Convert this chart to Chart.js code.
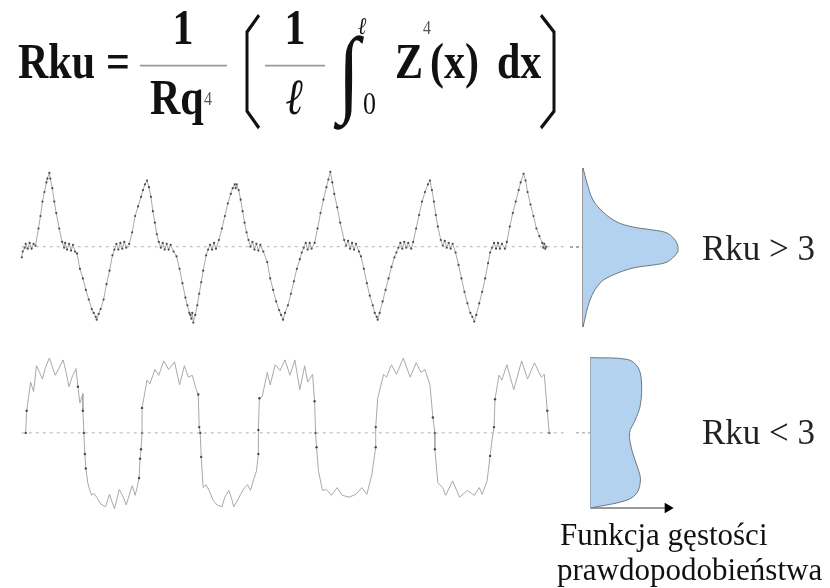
<!DOCTYPE html>
<html>
<head>
<meta charset="utf-8">
<script src="https://cdn.jsdelivr.net/npm/chart.js@4/dist/chart.umd.min.js"></script>
<style>
  html, body { margin: 0; padding: 0; background: #ffffff; }
  #wrap { position: relative; width: 830px; height: 588px; overflow: hidden; background: #ffffff; }
  canvas { position: absolute; }
  svg { position: absolute; left: 0; top: 0; }
  .serif { font-family: 'Liberation Serif', 'Times New Roman', serif; }
</style>
</head>
<body>
<div id="wrap">
  <canvas id="topProfile" width="570" height="200" style="left:0;top:140px"></canvas>
  <canvas id="topDensity" width="130" height="200" style="left:570px;top:140px"></canvas>
  <canvas id="bottomProfile" width="570" height="200" style="left:0;top:330px"></canvas>
  <canvas id="bottomDensity" width="130" height="200" style="left:570px;top:330px"></canvas>

  <svg width="830" height="588" xmlns="http://www.w3.org/2000/svg">
    <!-- kurtosis formula, set slightly tall -->
    <g transform="translate(0,-10) scale(1,1.2)">
      <g class="serif" font-weight="bold" font-size="42" fill="#111">
        <text x="18" y="73">Rku</text>
        <text x="106" y="73">=</text>
        <text x="183" y="45" text-anchor="middle">1</text>
        <text x="150" y="103">Rq</text>
        <text x="295" y="45" text-anchor="middle">1</text>
        <text x="295" y="103" text-anchor="middle" font-style="italic">ℓ</text>
        <text x="395" y="73">Z</text>
        <text x="430" y="73">(x)</text>
        <text x="497" y="73">dx</text>
      </g>
      <g class="serif" fill="#555">
        <text x="204" y="96" font-size="16">4</text>
        <text x="423" y="37" font-size="16">4</text>
      </g>
      <g class="serif" fill="#111">
        <text x="358" y="37" font-size="20" font-style="italic">ℓ</text>
        <text x="363" y="103" font-size="26">0</text>
        <text x="338" y="95" font-size="80">∫</text>
      </g>
      <line x1="140" y1="63" x2="227" y2="63" stroke="#9a9a9a" stroke-width="1.3"/>
      <line x1="265" y1="63" x2="325" y2="63" stroke="#9a9a9a" stroke-width="1.3"/>
      <path d="M259,21 L247,35 L247,101 L259,115" fill="none" stroke="#111" stroke-width="3"/>
      <path d="M541,21 L554,35 L554,101 L541,115" fill="none" stroke="#111" stroke-width="3"/>
    </g>

    <!-- labels -->
    <g class="serif" fill="#222" font-size="35">
      <text x="702" y="260">Rku &gt; 3</text>
      <text x="702" y="444">Rku &lt; 3</text>
    </g>
    <g class="serif" fill="#111" font-size="31">
      <text x="560" y="545">Funkcja gęstości</text>
      <text x="557" y="580">prawdopodobieństwa</text>
    </g>
  </svg>
</div>

<script>
// Profile with Rku > 3: position along the trace and height above the mean line
const topPosition = [
  0,1,3,4,6,8,10,12,14,
  17,19,21,23,25,26,28,
  29,31,33,35,38,41,
  43,44,46,48,50,52,54,
  56,59,62,65,68,71,73,75,76,
  78,80,83,86,89,92,
  94,96,98,100,102,104,106,109,
  112,115,118,121,123,125,127,
  129,131,133,135,137,139,
  141,143,145,147,149,151,154,157,
  160,163,166,168,170,171,172,173,174,176,
  178,180,182,184,187,
  189,191,193,195,197,200,
  203,206,209,212,214,216,217,218,220,
  222,224,226,228,230,
  232,234,236,238,240,242,245,249,
  252,255,258,261,263,265,
  267,270,273,276,279,282,284,
  286,288,290,292,294,297,
  300,303,306,309,311,313,
  315,317,320,323,327,
  329,331,333,335,337,339,342,344,
  347,350,353,356,358,360,361,
  363,366,369,372,375,378,380,
  382,384,386,388,390,392,395,397,
  400,403,406,409,412,414,
  416,418,420,422,425,
  427,429,431,433,435,437,440,
  443,446,449,452,455,457,459,
  461,464,467,470,473,475,
  477,479,481,483,485,487,490,492,
  495,498,501,504,506,509,
  511,513,516,519,522,525,528,
  529,530,531,532
];
const topHeight = [
  -11,-5,-1,3,-2,4,-2,3,1,
  19,32,47,57,67,71,77,
  71,61,47,35,19,5,
  -1,4,-3,3,-4,2,-5,
  -7,-23,-33,-45,-55,-65,-69,-73,-76,
  -70,-65,-55,-39,-25,-9,
  -3,3,-3,4,-2,5,-1,3,
  15,32,42,52,59,65,69,
  62,52,37,25,13,5,
  -1,4,-3,3,-3,2,-5,-10,
  -23,-38,-53,-61,-69,-71,-75,-69,-79,-71,
  -61,-49,-37,-25,-9,
  -3,2,-3,4,-2,7,
  19,32,45,55,61,65,61,65,59,
  49,37,25,15,7,
  0,5,-3,3,-4,2,-5,-16,
  -33,-45,-57,-66,-71,-76,
  -69,-61,-49,-36,-23,-13,-6,
  -1,4,-3,4,-2,4,
  19,35,49,62,70,78,
  67,55,41,25,7,
  1,6,-2,4,-3,3,-5,-10,
  -23,-38,-51,-61,-69,-73,-76,
  -69,-57,-45,-33,-21,-11,-6,
  -1,4,-2,5,-1,4,-2,5,
  19,33,47,57,65,69,
  59,47,33,21,7,
  1,6,-1,4,-2,3,-6,
  -19,-33,-47,-59,-69,-73,-78,
  -71,-59,-47,-33,-17,-6,
  -1,4,-2,4,-2,3,-2,5,
  21,35,47,59,67,76,
  69,57,44,32,19,11,4,
  -1,3,-2,0
];

// Profile with Rku < 3
const bottomPosition = [
  4,5,7,9,12,15,18,21,24,28,31,34,38,42,45,48,51,55,57,59,62,62,
  63,64,65,67,69,71,73,76,80,85,89,94,99,103,106,109,112,115,117,119,120,121,
  122,122,125,127,130,135,139,144,149,155,160,165,169,173,177,179,180,
  181,182,184,187,190,194,198,203,206,210,213,215,219,222,226,229,232,235,238,240,
  240,241,244,249,252,257,262,267,272,277,282,287,290,295,297,
  298,299,301,305,309,314,320,325,332,339,345,350,355,359,
  359,361,367,370,375,380,387,394,400,405,409,414,417,
  419,419,422,427,430,437,444,452,459,464,467,472,475,477,
  479,480,484,487,492,499,507,513,520,527,530,533,535
];
const bottomHeight = [
  0,23,38,53,43,70,63,56,68,78,69,60,68,76,63,48,58,67,48,31,41,23,
  0,-22,-37,-52,-60,-65,-63,-67,-74,-77,-64,-79,-59,-67,-75,-65,-55,-65,-57,-47,-27,-17,
  0,26,43,55,51,66,60,75,66,74,50,70,58,60,45,40,6,
  0,-25,-57,-54,-60,-70,-75,-77,-67,-60,-69,-77,-70,-64,-57,-54,-60,-49,-40,-22,
  3,36,38,63,50,71,65,76,60,76,45,70,53,61,33,
  0,-15,-40,-60,-59,-65,-57,-65,-67,-64,-57,-64,-44,-15,
  6,36,61,58,71,61,78,58,73,63,66,50,16,
  0,-17,-52,-57,-65,-50,-67,-60,-65,-57,-64,-50,-24,-7,
  6,35,60,55,71,45,75,56,73,58,61,23,0
];

// Probability density of the heights (density, height)
const densityTop = [0, 4, 10, 20, 34, 50, 70, 84, 92, 95, 94, 84, 70, 50, 30, 17, 7, 0];
const levelsTop  = [79, 64, 47, 35, 25, 20, 17, 14, 7, 0, -6, -15, -18, -21, -28, -36, -53, -80];
const densityBottom = [0, 41, 52, 56, 55, 49, 43, 46, 52, 55, 51, 39, 0];
const levelsBottom  = [80, 78, 70, 56, 30, 13, 0, -20, -37, -50, -64, -72, -80];

const zip = (xs, ys) => xs.map((x, i) => ({ x, y: ys[i] }));

const baseOptions = (xMin, xMax, yMin, yMax) => ({
  responsive: false,
  animation: false,
  events: [],
  layout: { padding: 0 },
  plugins: { legend: { display: false }, tooltip: { enabled: false } },
  scales: {
    x: { type: 'linear', min: xMin, max: xMax, display: false },
    y: { type: 'linear', min: yMin, max: yMax, display: false }
  }
});

function profileChart(id, xs, zs, yMin, yMax, steepOnly) {
  const pts = zip(xs, zs);
  new Chart(document.getElementById(id), {
    type: 'scatter',
    data: {
      datasets: [
        {
          // mean line
          data: [{ x: 0, y: 0 }, { x: 552, y: 0 }],
          showLine: true,
          borderColor: '#b4b4b4',
          borderWidth: 1,
          borderDash: [3, 4],
          pointRadius: 0
        },
        {
          data: pts,
          showLine: true,
          borderColor: '#a9a9a9',
          borderWidth: 1,
          tension: 0,
          pointBackgroundColor: '#4a4a4a',
          pointBorderWidth: 0,
          pointRadius: (ctx) => {
            if (!steepOnly) return 1.1;
            const i = ctx.dataIndex;
            const a = pts[Math.max(0, i - 1)], b = pts[Math.min(pts.length - 1, i + 1)];
            const dx = Math.abs(b.x - a.x) || 0.5;
            return Math.abs(b.y - a.y) / dx > 8 ? 1.2 : 0;
          }
        }
      ]
    },
    options: baseOptions(-18, 552, yMin, yMax)
  });
}

// Density curves are drawn along the height axis and filled back to zero density
function densityChart(id, dens, levels, xMin, xMax, yMin, yMax, meanEnd, meanColor, withArrow) {
  const top = levels[0], low = levels[levels.length - 1];
  const datasets = [
    {
      data: zip(dens, levels),
      fill: 'origin',
      backgroundColor: '#b2d2ef',
      borderColor: '#6f7780',
      borderWidth: 1,
      tension: 0.35,
      pointRadius: 0
    },
    {
      // zero-density axis
      data: [{ x: 0, y: top }, { x: 0, y: low }],
      borderColor: '#8a8a8a',
      borderWidth: 1,
      pointRadius: 0
    },
    {
      // mean line
      data: [{ x: xMin, y: 0 }, { x: meanEnd, y: 0 }],
      borderColor: meanColor,
      borderWidth: 1,
      borderDash: [3, 3],
      pointRadius: 0
    }
  ];
  if (withArrow) {
    datasets.push({
      data: [{ x: 0, y: low }, { x: 85, y: low }],
      borderColor: '#333',
      borderWidth: 1,
      pointStyle: 'triangle',
      rotation: 90,
      pointRadius: [0, 6],
      pointBackgroundColor: '#000',
      pointBorderColor: '#000',
      pointBorderWidth: 0
    });
  }
  const options = baseOptions(xMin, xMax, yMin, yMax);
  options.indexAxis = 'y';
  new Chart(document.getElementById(id), {
    type: 'line',
    data: { datasets },
    options
  });
}

profileChart('topProfile', topPosition, topHeight, -93, 107, false);
profileChart('bottomProfile', bottomPosition, bottomHeight, -97, 103, true);
densityChart('topDensity', densityTop, levelsTop, -13, 117, -93, 107, 88, '#555', false);
densityChart('bottomDensity', densityBottom, levelsBottom, -16, 114, -97, 103, 42, '#9a9a9a', true);
</script>
</body>
</html>
